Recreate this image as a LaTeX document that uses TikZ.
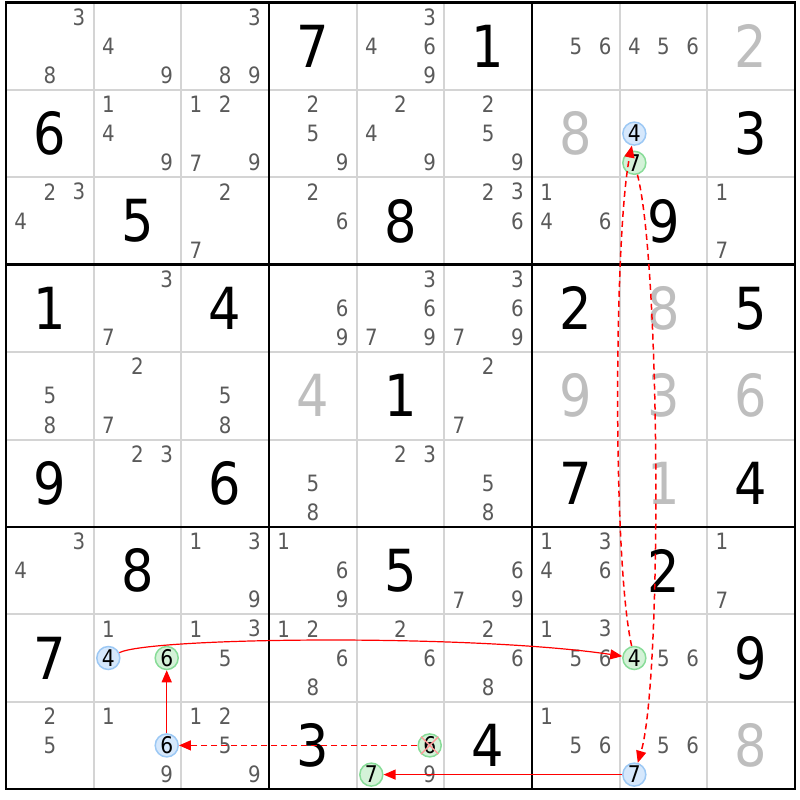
\documentclass[tikz,border=0pt]{standalone}
\usepackage{fontspec}
\setmainfont{DejaVu Sans}[FakeStretch=0.88]
\usetikzlibrary{arrows.meta,calc}

\definecolor{candgray}{HTML}{5A5A5A}
\definecolor{solvedgray}{HTML}{BEBEBE}
\definecolor{gridgray}{HTML}{D4D4D4}
\definecolor{blueline}{HTML}{9CC8F4}
\definecolor{bluefill}{HTML}{D6E8FC}
\definecolor{greenline}{HTML}{88DC98}
\definecolor{greenfill}{HTML}{D4F2D8}

\tikzset{
	cand/.style={text=candgray,font=\fontsize{22.5}{22.5}\selectfont,inner sep=0pt},
	given/.style={text=black,font=\fontsize{58}{58}\selectfont,inner sep=0pt},
	solved/.style={given,text=solvedgray},
	bluecand/.style={circle,draw=blueline,fill=bluefill,text=black,line width=1.5pt,minimum size=23pt,inner sep=0pt,font=\fontsize{23}{23}\selectfont},
	greencand/.style={bluecand,draw=greenline,fill=greenfill},
	link/.style={red,line width=1.2pt,-{Triangle[length=12pt,width=10pt]}},
	weak/.style={link,line width=1.5pt,dash pattern=on 6pt off 4pt}
}

% cell size
\newcommand{\cw}{87.67}
\newcommand{\ch}{87.4}
% \cand{row}{col}{digit}{style}
\newcommand{\cand}[4]{%
	\pgfmathsetmacro\cx{6+(#2-0.5)*\cw+(mod(#3-1,3)-1)*29.2}%
	\pgfmathsetmacro\cy{-2.5-(#1-0.5)*\ch-(floor((#3-1)/3)-1)*29.2}%
	\node[#4] (n#1#2#3) at (\cx,\cy) {#3};}
\newcommand{\cands}[3]{\foreach \d in {#3} {\cand{#1}{#2}{\d}{cand}}}
% \digit{row}{col}{digit}{style}
\newcommand{\digit}[4]{%
	\pgfmathsetmacro\cx{6+(#2-0.5)*\cw}%
	\pgfmathsetmacro\cy{-2.5-(#1-0.5)*\ch}%
	\node[#4] (g#1#2) at (\cx,\cy) {#3};}

\begin{document}
\begin{tikzpicture}[x=1pt,y=1pt]
		\useasboundingbox (0,0) rectangle (800,-800);
		% grid
		\foreach \i in {0,...,9} {
			\draw[gridgray,line width=2pt] ({6+\i*\cw},-2.5) -- ({6+\i*\cw},{-2.5-9*\ch});
			\draw[gridgray,line width=2pt] (6,{-2.5-\i*\ch}) -- ({6+9*\cw},{-2.5-\i*\ch});
		}
		\foreach \i in {0,3,6,9} {
			\draw[black,line width=2.7pt,line cap=rect] ({6+\i*\cw},-2.5) -- ({6+\i*\cw},{-2.5-9*\ch});
			\draw[black,line width=2.7pt,line cap=rect] (6,{-2.5-\i*\ch}) -- ({6+9*\cw},{-2.5-\i*\ch});
		}
		% givens
		\foreach \r/\c/\v in {1/4/7,1/6/1,2/1/6,2/9/3,3/2/5,3/5/8,3/8/9,4/1/1,4/3/4,4/7/2,4/9/5,
			5/5/1,6/1/9,6/3/6,6/7/7,6/9/4,7/2/8,7/5/5,7/8/2,8/1/7,8/9/9,9/4/3,9/6/4}
			{\digit{\r}{\c}{\v}{given}}
		\foreach \r/\c/\v in {1/9/2,2/7/8,4/8/8,5/4/4,5/7/9,5/8/3,5/9/6,6/8/1,9/9/8}
			{\digit{\r}{\c}{\v}{solved}}
		% candidates
		\cands{1}{1}{3,8} \cands{1}{2}{4,9} \cands{1}{3}{3,8,9} \cands{1}{5}{3,4,6,9}
		\cands{1}{7}{5,6} \cands{1}{8}{4,5,6}
		\cands{2}{2}{1,4,9} \cands{2}{3}{1,2,7,9} \cands{2}{4}{2,5,9} \cands{2}{5}{2,4,9}
		\cands{2}{6}{2,5,9}
		\cands{3}{1}{2,3,4} \cands{3}{3}{2,7} \cands{3}{4}{2,6} \cands{3}{6}{2,3,6}
		\cands{3}{7}{1,4,6} \cands{3}{9}{1,7}
		\cands{4}{2}{3,7} \cands{4}{4}{6,9} \cands{4}{5}{3,6,7,9} \cands{4}{6}{3,6,7,9}
		\cands{5}{1}{5,8} \cands{5}{2}{2,7} \cands{5}{3}{5,8} \cands{5}{6}{2,7}
		\cands{6}{2}{2,3} \cands{6}{4}{5,8} \cands{6}{5}{2,3} \cands{6}{6}{5,8}
		\cands{7}{1}{3,4} \cands{7}{3}{1,3,9} \cands{7}{4}{1,6,9} \cands{7}{6}{6,7,9}
		\cands{7}{7}{1,3,4,6} \cands{7}{9}{1,7}
		\cands{8}{2}{1} \cands{8}{3}{1,3,5} \cands{8}{4}{1,2,6,8} \cands{8}{5}{2,6}
		\cands{8}{6}{2,6,8} \cands{8}{7}{1,3,5,6} \cands{8}{8}{5,6}
		\cands{9}{1}{2,5} \cands{9}{2}{1,9} \cands{9}{3}{1,2,5,9} \cands{9}{5}{9}
		\cands{9}{7}{1,5,6} \cands{9}{8}{5,6}
		% chain
		\cand{2}{8}{4}{bluecand} \cand{2}{8}{7}{greencand}
		\cand{8}{2}{4}{bluecand} \cand{8}{2}{6}{greencand}
		\cand{8}{8}{4}{greencand}
		\cand{9}{2}{6}{bluecand} \cand{9}{5}{6}{greencand}
		\cand{9}{5}{7}{greencand} \cand{9}{8}{7}{bluecand}
		\draw[red!40,line width=1.5pt] (n956.north west) -- (n956.south east)
			(n956.north east) -- (n956.south west);
		\draw[link] (n824) .. controls ($(n824)+(43,21)$) and ($(n884)+(-160,24)$) .. (n884);
		\draw[weak] (n884) .. controls ($(n884)+(-22,98)$) and ($(n284)+(-20,-98)$) .. (n284);
		\draw[weak] (n287) .. controls ($(n287)+(26,-100)$) and ($(n987)+(28,95)$) .. (n987);
		\draw[link] (n987) -- (n957);
		\draw[weak] (n956) -- (n926);
		\draw[link] (n926) -- (n826);
	\end{tikzpicture}
\end{document}
